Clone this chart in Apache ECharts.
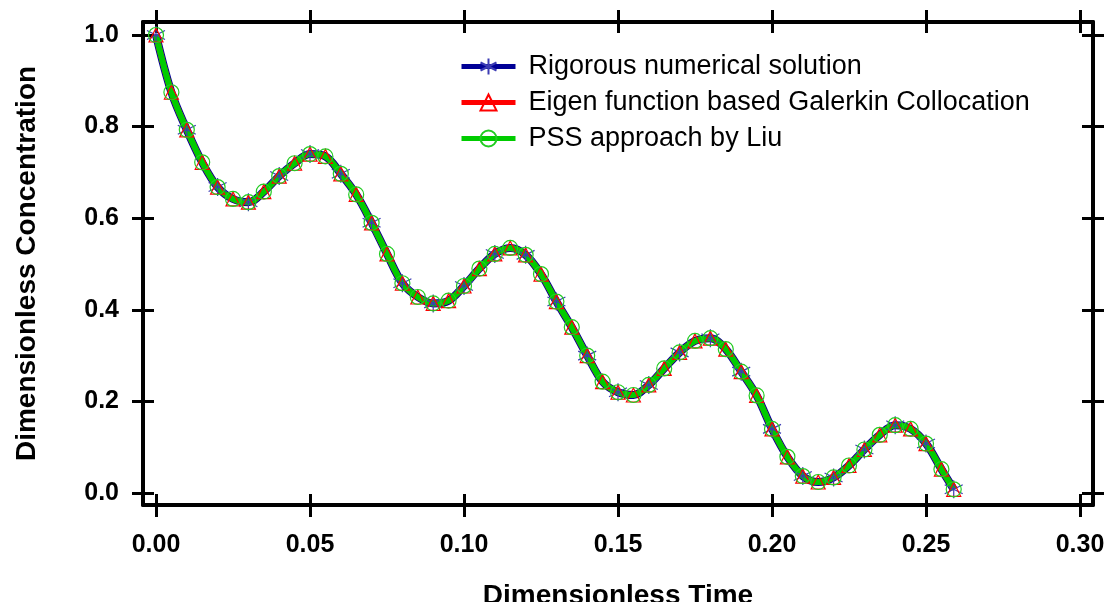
<!DOCTYPE html>
<html>
<head>
<meta charset="utf-8">
<script src="https://cdn.jsdelivr.net/npm/echarts@6/dist/echarts.min.js"></script>
<style>html,body{margin:0;padding:0;background:#fff;}#chart{width:1109px;height:602px;}</style>
</head>
<body>
<div id="chart"></div>
<script>
// Dimensionless time (x) at which values were read
const timeValues = [0, 0.005, 0.01, 0.015, 0.02, 0.025, 0.03, 0.035, 0.04, 0.045, 0.05, 0.055, 0.06, 0.065, 0.07, 0.075, 0.08, 0.085, 0.09, 0.095, 0.10, 0.105, 0.11, 0.115, 0.12, 0.125, 0.13, 0.135, 0.14, 0.145, 0.15, 0.155, 0.16, 0.165, 0.17, 0.175, 0.18, 0.185, 0.19, 0.195, 0.20, 0.205, 0.21, 0.215, 0.22, 0.225, 0.23, 0.235, 0.24, 0.245, 0.25, 0.255, 0.259];
// Rigorous numerical solution
const rigorousValues = [1.000, 0.875, 0.793, 0.722, 0.668, 0.642, 0.635, 0.658, 0.692, 0.720, 0.740, 0.735, 0.697, 0.652, 0.590, 0.522, 0.458, 0.428, 0.414, 0.420, 0.452, 0.490, 0.522, 0.535, 0.520, 0.478, 0.418, 0.362, 0.300, 0.243, 0.220, 0.214, 0.236, 0.272, 0.307, 0.332, 0.338, 0.314, 0.265, 0.213, 0.140, 0.079, 0.037, 0.024, 0.034, 0.060, 0.095, 0.127, 0.148, 0.140, 0.108, 0.052, 0.008];
// Eigen function based Galerkin Collocation
const galerkinValues = [1.000, 0.875, 0.793, 0.722, 0.668, 0.642, 0.635, 0.658, 0.692, 0.720, 0.740, 0.735, 0.697, 0.652, 0.590, 0.522, 0.458, 0.428, 0.414, 0.420, 0.452, 0.490, 0.522, 0.535, 0.520, 0.478, 0.418, 0.362, 0.300, 0.243, 0.220, 0.214, 0.236, 0.272, 0.307, 0.332, 0.338, 0.314, 0.265, 0.213, 0.140, 0.079, 0.037, 0.024, 0.034, 0.060, 0.095, 0.127, 0.148, 0.140, 0.108, 0.052, 0.008];
// PSS approach by Liu
const pssValues = [1.000, 0.875, 0.793, 0.722, 0.668, 0.642, 0.635, 0.658, 0.692, 0.720, 0.740, 0.735, 0.697, 0.652, 0.590, 0.522, 0.458, 0.428, 0.414, 0.420, 0.452, 0.490, 0.522, 0.535, 0.520, 0.478, 0.418, 0.362, 0.300, 0.243, 0.220, 0.214, 0.236, 0.272, 0.307, 0.332, 0.338, 0.314, 0.265, 0.213, 0.140, 0.079, 0.037, 0.024, 0.034, 0.060, 0.095, 0.127, 0.148, 0.140, 0.108, 0.052, 0.008];

const seriesNames = ['Rigorous numerical solution', 'Eigen function based Galerkin Collocation', 'PSS approach by Liu'];
const xTickValues = [0, 0.05, 0.10, 0.15, 0.20, 0.25, 0.30];
const yTickValues = [0, 0.2, 0.4, 0.6, 0.8, 1.0];
const xTitle = 'Dimensionless Time';
const yTitle = 'Dimensionless Concentration';

const STAR = 'path://M10,0L10,20M1.3,5L18.7,15M1.3,15L18.7,5';
const FONT = 'Liberation Sans, Arial, sans-serif';

function pairs(vals) { return timeValues.map((t, i) => [t, vals[i]]); }

const X_MIN = -0.00422, X_MAX = 0.30422, Y_MIN = -0.0262, Y_MAX = 1.0284;

function xAx(pos, inside, main) {
  return {
    type: 'value', position: pos, min: X_MIN, max: X_MAX,
    axisLine: { show: !inside, onZero: false, lineStyle: { color: '#000', width: 4 } },
    axisTick: { show: true, inside: inside, length: inside ? 11 : 12, customValues: xTickValues, lineStyle: { color: '#000', width: 3 } },
    axisLabel: main ? { show: true, customValues: xTickValues, formatter: v => v.toFixed(2), margin: 28, fontSize: 25, fontWeight: 'bold', fontFamily: FONT, color: '#000' } : { show: false },
    splitLine: { show: false },
    name: main ? xTitle : '', nameLocation: 'middle', nameGap: 77,
    nameTextStyle: { fontSize: 28, fontWeight: 'bold', fontFamily: FONT, color: '#000' }
  };
}
function yAx(pos, inside, main) {
  return {
    type: 'value', position: pos, min: Y_MIN, max: Y_MAX,
    axisLine: { show: !inside, onZero: false, lineStyle: { color: '#000', width: 4 } },
    axisTick: { show: true, inside: inside, length: 11, customValues: yTickValues, lineStyle: { color: '#000', width: 3 } },
    axisLabel: main ? { show: true, customValues: yTickValues, formatter: v => v.toFixed(1), margin: 24, fontSize: 25, fontWeight: 'bold', fontFamily: FONT, color: '#000' } : { show: false },
    splitLine: { show: false },
    name: main ? yTitle : '', nameLocation: 'middle', nameGap: 102, nameRotate: 90,
    nameTextStyle: { fontSize: 28, fontWeight: 'bold', fontFamily: FONT, color: '#000' }
  };
}

const chart = echarts.init(document.getElementById('chart'), null, { renderer: 'canvas' });
chart.setOption({
  animation: false,
  backgroundColor: '#fff',
  grid: { left: 143, right: 16, top: 22, bottom: 97, containLabel: false, outerBoundsMode: 'none' },
  legend: {
    orient: 'vertical', left: 454, top: 48, itemWidth: 54, itemHeight: 20, itemGap: 9,
    lineStyle: { width: 5 },
    textStyle: { fontSize: 27, fontFamily: FONT, color: '#000', padding: [0, 0, 0, 8] },
    data: seriesNames
  },
  xAxis: [xAx('bottom', false, true), xAx('bottom', true, false), xAx('top', false, false), xAx('top', true, false)],
  yAxis: [yAx('left', false, true), yAx('left', true, false), yAx('right', false, false), yAx('right', true, false)],
  series: [
    {
      name: seriesNames[0], type: 'line', xAxisIndex: 0, yAxisIndex: 0, smooth: 0.35,
      data: pairs(rigorousValues).map((p, i) => i % 2 === 0 ? { value: p } : { value: p, symbol: 'none' }),
      symbol: STAR, symbolSize: 18, showAllSymbol: true,
      lineStyle: { color: '#000096', width: 8 },
      itemStyle: { color: 'rgba(0,0,0,0)', borderColor: '#3c3cb4', borderWidth: 1.2 }
    },
    {
      name: seriesNames[1], type: 'line', xAxisIndex: 0, yAxisIndex: 0, smooth: 0.35,
      data: pairs(galerkinValues),
      symbol: 'triangle', symbolSize: 14, showAllSymbol: true,
      lineStyle: { color: '#ff0000', width: 6 },
      itemStyle: { color: 'rgba(0,0,0,0)', borderColor: '#ff0000', borderWidth: 1.2 }
    },
    {
      name: seriesNames[2], type: 'line', xAxisIndex: 0, yAxisIndex: 0, smooth: 0.35,
      data: pairs(pssValues),
      symbol: 'circle', symbolSize: 15, showAllSymbol: true,
      lineStyle: { color: '#00cc00', width: 6 },
      itemStyle: { color: 'rgba(0,0,0,0)', borderColor: '#22cc22', borderWidth: 1.2 }
    }
  ]
});
</script>
</body>
</html>
